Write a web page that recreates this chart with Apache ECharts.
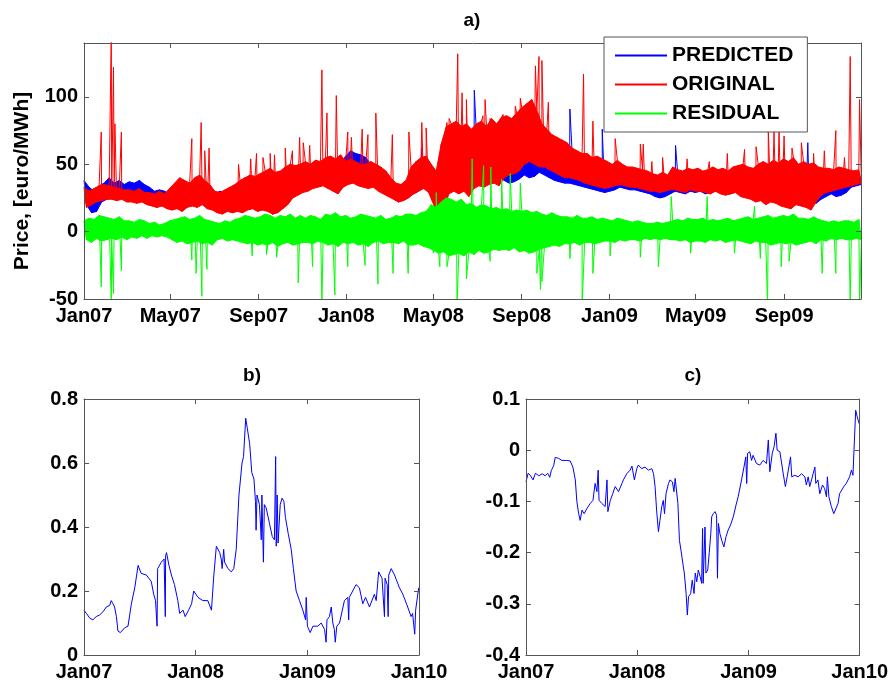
<!DOCTYPE html>
<html><head><meta charset="utf-8">
<script src="https://cdn.jsdelivr.net/npm/echarts@6/dist/echarts.min.js"></script>
<style>html,body{margin:0;padding:0;background:#fff}#c{width:891px;height:684px}</style>
</head><body><div id="c"></div>
<script>
// ---------- tick labels ----------
const topTickNames = ['Jan07','May07','Sep07','Jan08','May08','Sep08','Jan09','May09','Sep09'];
const topTickDates = ['2007-01-01','2007-05-01','2007-09-01','2008-01-01','2008-05-01','2008-09-01','2009-01-01','2009-05-01','2009-09-01'];
const bottomTickNames = ['Jan07','Jan08','Jan09','Jan10'];
const bottomTickDates = ['2007-01-01','2008-01-01','2009-01-01','2010-01-01'];
const seriesNames = ['PREDICTED','ORIGINAL','RESIDUAL'];

// ---------- panel a: weekly band upper / lower values (week i starts day 7*i from Jan 1 2007) ----------
const predHi = [38,33,30,34,36, 40,36,38,35, 37,36,38,35, 33,30,31,30, 28,30,32,34,33, 35,38,36,33, 28,30,29,31, 30,32,31,34,33, 35,37,38,36, 38,41,43,44,46, 47,46,49,48, 50,52,49,51,
  56,60,58,57,55, 50,48,46,44, 37,33,32,35, 40,44,48,50, 48,40,55,62,65, 66,68,70,66, 72,70,74,76,73, 78,80,79,82, 88,86,84,82, 78,74,70,66,64, 62,60,58,56, 55,52,53,50,
  50,48,52,49,47, 46,45,44,43, 41,40,42,40, 44,43,42,44,43, 42,43,41,42, 43,44,42,43, 44,45,43,42,44, 45,46,44,43, 46,48,47,45, 47,46,45,44,43, 42,41,42,43, 44,45,44];
const predLo = [20,14,15,22,24, 25,24,26,24, 24,22,25,21, 20,18,21,19, 17,18,19,21,20, 22,24,21,19, 16,15,17,18, 17,16,18,20,18, 20,16,13,15, 18,22,26,28,30, 32,34,35,36, 36,38,35,38,
  42,44,43,41,38, 36,34,33,31, 25,22,24,26, 28,30,33,35, 30,20,32,38,36, 38,40,36,39, 40,42,38,43,41, 38,36,37,39, 42,40,41,44, 42,40,38,37,36, 36,35,34,33, 32,31,30,29,
  30,31,33,32,31, 31,30,29,28, 26,25,26,28, 30,29,28,30,29, 30,28,29,30, 30,29,28,30, 29,27,28,27,26, 27,24,25,22, 22,19,20,22, 24,23,21,24,26, 28,26,27,29, 33,34,35];
const origHi = [33,30,32,34,35, 34,33,32,31, 31,30,32,29, 29,28,30,28, 32,36,40,38,36, 40,42,38,35, 30,29,31,33, 35,38,40,42,41, 43,45,47,44, 45,48,50,49,50, 52,50,53,52, 55,56,54,57,
  52,54,52,50,50, 52,50,48,45, 40,36,35,38, 48,52,55,56, 50,45,65,78,80, 82,78,80,76, 80,82,78,84,80, 85,86,84,88, 92,95,98,90, 80,76,72,70,68, 66,62,60,58, 58,55,56,54,
  52,50,53,50,48, 48,47,46,45, 43,42,44,42, 48,46,45,47,46, 47,45,46,48, 46,47,45,48, 49,50,48,47,50, 52,50,53,51, 54,52,55,50, 52,50,51,48,47, 47,46,48,47, 46,45,46];
const origLo = [18,20,22,23,24, 24,23,24,22, 22,21,22,20, 19,18,19,17, 16,17,15,18,19, 18,20,17,16, 14,13,15,14, 15,14,16,17,15, 16,15,13,14, 17,20,25,27,29, 30,32,33,34, 32,30,28,33,
  35,36,34,33,32, 33,30,28,26, 24,22,23,25, 28,30,32,29, 20,8,15,28,30, 28,30,26,32, 34,33,35,36,34, 40,42,43,45, 50,52,50,48, 48,46,44,42,40, 40,39,38,36, 35,34,33,32,
  33,34,35,34,33, 33,32,31,30, 30,29,30,31, 31,30,29,31,30, 30,29,28,30, 28,27,28,29, 26,25,24,22,23, 20,22,21,19, 18,17,20,19, 18,16,22,27,29, 30,31,32,33, 34,35,36];
const resHi = [8,10,9,12,11, 10,9,11,8, 8,7,9,8, 6,7,5,6, 8,9,10,11,9, 10,12,9,8, 7,6,8,7, 9,10,12,11,10, 11,13,12,10, 12,11,13,10,12, 10,12,11,9, 13,12,14,11,
  12,10,11,13,12, 11,10,12,9, 10,12,11,13, 13,12,14,15, 20,18,22,25,24, 22,24,20,21, 18,20,19,17,18, 16,17,15,16, 15,16,14,15, 13,12,14,12,11, 11,10,12,10, 10,11,9,10,
  9,8,10,9,8, 7,8,7,6, 6,7,6,7, 8,9,8,10,9, 9,10,8,9, 8,9,10,8, 9,10,11,9,10, 11,12,10,11, 12,11,13,10, 10,9,11,9,8, 7,8,7,8, 8,7,9];
const resLo = [-6,-8,-5,-7,-6, -5,-6,-4,-6, -4,-5,-3,-5, -3,-4,-3,-4, -6,-8,-7,-9,-8, -7,-9,-8,-10, -6,-5,-7,-6, -7,-8,-9,-8,-10, -9,-10,-8,-11, -9,-8,-10,-9,-8, -8,-9,-7,-8, -10,-9,-11,-8,
  -9,-8,-10,-9,-11, -8,-7,-9,-8, -8,-9,-7,-10, -10,-9,-11,-12, -14,-16,-15,-18,-17, -16,-18,-15,-17, -14,-16,-15,-13,-14, -13,-14,-12,-15, -14,-16,-15,-13, -12,-11,-10,-11,-9, -9,-8,-10,-8, -8,-9,-8,-7,
  -7,-8,-6,-7,-6, -6,-7,-5,-6, -5,-6,-5,-6, -6,-7,-6,-8,-7, -7,-8,-6,-7, -6,-8,-7,-6, -7,-8,-9,-7,-8, -8,-10,-9,-8, -9,-8,-10,-9, -8,-7,-9,-6,-7, -5,-6,-5,-6, -6,-5,-6];
// isolated spikes [day, value]
const origSpikes = [[24,74],[38,150],[41,122],[43,80],[52,74],[150,69],[163,81],[168,60],[174,62],[215,50],[232,54],[240,58],[249,55],[259,58],[265,57],[280,62],[290,60],[300,70],[305,66],[314,64],
  [331,120],[338,88],[351,101],[367,74],[372,70],[387,76],[395,72],[406,88],[429,72],[452,74],[470,81],[476,77],[505,81],[508,84],[520,132],[526,103],[532,98],[555,86],[558,98],[565,84],
  [583,87],[600,93],[607,99],[618,91],[628,123],[633,130],[637,127],[646,96],[665,69],[695,117],[708,82],[739,69],[774,65],[778,65],[790,52],[805,55],[839,54],[870,52],[895,58],[919,61],
  [935,63],[952,76],[960,74],[967,75],[974,71],[985,62],[998,66],[1015,58],[1030,60],[1046,75],[1058,55],[1066,130],[1079,98]];
const predSpikes = [[470,62],[543,105],[676,91],[721,76],[823,64],[1007,66]];
const resSpikes = [[24,-41],[38,-55],[41,-46],[52,-29],[150,-21],[156,-31],[164,-48],[171,-28],[234,-18],[254,-17],[268,-19],[298,-38],[318,-26],[331,-55],[349,-47],[367,-26],[391,-25],
  [409,-39],[430,-31],[451,-31],[486,-16],[490,29],[495,-26],[505,-26],[519,-55],[532,-35],[540,54],[556,49],[565,-22],[566,48],[581,39],[593,43],[607,36],[630,-31],[635,-43],[637,-37],
  [676,-20],[693,-55],[708,-31],[732,-18],[774,-19],[799,-26],[817,26],[844,-16],[867,26],[905,-16],[933,19],[941,-20],[951,-55],[970,-26],[981,-22],[1027,-31],[1046,-31],[1066,-55],[1079,-55]];

// ---------- panel b / c: [day since Jan 1 2007, value] ----------
const panelB = [[0,0.14],[8,0.13],[19,0.115],[29,0.11],[40,0.12],[51,0.125],[62,0.135],[73,0.15],[84,0.155],[89,0.17],[95,0.16],[100,0.15],[106,0.12],[111,0.075],[119,0.07],[133,0.085],
  [144,0.09],[155,0.16],[166,0.21],[177,0.28],[187,0.255],[204,0.25],[220,0.23],[228,0.19],[234,0.17],[239,0.09],[241,0.27],[253,0.29],[262,0.30],[266,0.12],[267,0.31],[270,0.32],
  [278,0.28],[286,0.25],[296,0.22],[307,0.17],[313,0.13],[324,0.14],[331,0.12],[342,0.14],[352,0.16],[359,0.20],[373,0.18],[389,0.17],[405,0.17],[413,0.15],[417,0.14],[424,0.24],
  [433,0.34],[444,0.32],[449,0.30],[452,0.27],[457,0.33],[460,0.29],[471,0.27],[482,0.26],[490,0.27],[498,0.33],[507,0.50],[517,0.60],[522,0.62],[529,0.74],[534,0.71],[542,0.66],
  [549,0.57],[556,0.55],[561,0.48],[563,0.39],[566,0.50],[574,0.47],[580,0.36],[582,0.50],[587,0.29],[590,0.47],[596,0.46],[607,0.41],[616,0.37],[623,0.36],[627,0.62],[629,0.34],
  [632,0.50],[635,0.35],[642,0.47],[648,0.49],[654,0.48],[659,0.43],[668,0.38],[678,0.33],[685,0.27],[694,0.20],[705,0.17],[716,0.14],[725,0.11],[727,0.18],[731,0.09],[740,0.07],
  [749,0.09],[765,0.09],[776,0.10],[787,0.08],[792,0.04],[795,0.11],[803,0.12],[809,0.15],[814,0.10],[819,0.08],[822,0.04],[827,0.09],[836,0.10],[852,0.17],[863,0.18],[866,0.11],
  [868,0.18],[879,0.20],[890,0.22],[901,0.21],[912,0.16],[921,0.18],[934,0.15],[950,0.19],[956,0.17],[964,0.26],[975,0.24],[983,0.12],[985,0.24],[992,0.22],[995,0.12],[997,0.25],
  [1005,0.27],[1016,0.25],[1032,0.21],[1043,0.19],[1059,0.15],[1070,0.12],[1075,0.13],[1082,0.065],[1085,0.14],[1095,0.21]];
const panelC = [[0,-0.062],[7,-0.045],[14,-0.049],[23,-0.058],[31,-0.045],[42,-0.05],[53,-0.046],[63,-0.05],[71,-0.045],[78,-0.053],[83,-0.04],[91,-0.03],[96,-0.014],[107,-0.016],
  [118,-0.02],[134,-0.02],[145,-0.021],[154,-0.033],[162,-0.058],[167,-0.1],[173,-0.124],[178,-0.137],[184,-0.117],[191,-0.124],[200,-0.114],[211,-0.104],[220,-0.098],[227,-0.065],
  [233,-0.081],[237,-0.039],[240,-0.098],[249,-0.104],[260,-0.11],[266,-0.058],[269,-0.12],[277,-0.098],[285,-0.085],[293,-0.071],[304,-0.081],[315,-0.065],[320,-0.058],[331,-0.046],
  [342,-0.039],[348,-0.031],[356,-0.058],[364,-0.036],[369,-0.029],[380,-0.036],[391,-0.033],[402,-0.039],[413,-0.036],[419,-0.046],[424,-0.071],[429,-0.117],[435,-0.159],[440,-0.137],
  [446,-0.11],[451,-0.098],[455,-0.124],[460,-0.085],[468,-0.065],[473,-0.058],[481,-0.062],[486,-0.081],[490,-0.055],[495,-0.058],[499,-0.104],[504,-0.176],[509,-0.195],[517,-0.228],
  [520,-0.24],[526,-0.28],[530,-0.322],[534,-0.286],[541,-0.28],[546,-0.254],[552,-0.28],[556,-0.24],[561,-0.257],[566,-0.234],[572,-0.247],[577,-0.26],[580,-0.153],[582,-0.26],
  [588,-0.15],[591,-0.24],[597,-0.234],[602,-0.2],[607,-0.163],[610,-0.13],[615,-0.124],[621,-0.12],[626,-0.127],[629,-0.25],[632,-0.143],[637,-0.163],[643,-0.176],[650,-0.189],
  [657,-0.169],[664,-0.156],[672,-0.146],[681,-0.13],[690,-0.107],[697,-0.091],[708,-0.058],[716,-0.033],[722,-0.013],[725,-0.065],[728,-0.006],[735,-0.003],[741,-0.02],[746,-0.01],
  [757,-0.026],[768,-0.029],[779,-0.02],[790,-0.026],[796,0.02],[801,-0.042],[809,-0.006],[815,0.007],[821,0.033],[825,0],[834,-0.003],[845,-0.046],[852,-0.071],[858,-0.052],
  [864,-0.049],[869,-0.013],[873,-0.052],[883,-0.049],[894,-0.052],[905,-0.046],[916,-0.052],[921,-0.068],[927,-0.052],[932,-0.071],[938,-0.058],[943,-0.046],[949,-0.033],[952,-0.065],
  [959,-0.058],[965,-0.085],[974,-0.068],[981,-0.075],[987,-0.091],[990,-0.052],[995,-0.091],[1003,-0.11],[1011,-0.124],[1017,-0.124],[1025,-0.104],[1030,-0.085],[1036,-0.088],
  [1044,-0.071],[1052,-0.065],[1063,-0.052],[1069,-0.039],[1074,-0.049],[1080,-0.046],[1083,0.078],[1088,0.065],[1096,0.049]];

// ---------- helpers ----------
const FONT = '"Liberation Sans", Arial, Helvetica, sans-serif';
const AXC = '#555';
const BLUE = '#0000ff', RED = '#ff0000', GREEN = '#00ff00';
const day0 = Date.parse('2007-01-01T00:00:00Z');
const dayOf = s => Math.round((Date.parse(s + 'T00:00:00Z') - day0) / 86400000);
const topTickDays = topTickDates.map(dayOf);
const bottomTickDays = bottomTickDates.map(dayOf);

function bandLine(hi, lo, spikes) {
  const pts = [];
  for (let i = 0; i < Math.min(hi.length, lo.length); i++) {
    pts.push([i * 7, hi[i]]);
    pts.push([i * 7 + 3.5, lo[i]]);
  }
  spikes.forEach(s => pts.push(s));
  pts.sort((a, b) => a[0] - b[0]);
  return pts;
}
// filled envelope between upper and lower weekly values, placed through the axis scales
function bandFill(hi, lo, color, z) {
  return {
    type: 'custom', xAxisIndex: 0, yAxisIndex: 0, silent: true, clip: true, animation: false, z: z,
    data: [[0, 0]], encode: { x: 0, y: 1 },
    renderItem: function (params, api) {
      const pts = [];
      for (let i = 0; i < hi.length; i++) pts.push(api.coord([i * 7, hi[i]]));
      for (let i = lo.length - 1; i >= 0; i--) pts.push(api.coord([i * 7 + 3.5, lo[i]]));
      return { type: 'polygon', shape: { points: pts }, style: { fill: color, stroke: color, lineWidth: 1 } };
    }
  };
}
const labelStyle = { color: '#000', fontWeight: 'bold', fontSize: 20, fontFamily: FONT };

function xAxes(gi, max, days, names) {
  const fmt = v => { for (let k = 0; k < days.length; k++) if (Math.abs(days[k] - v) < 0.5) return names[k]; return ''; };
  const base = { type: 'value', gridIndex: gi, min: 0, max: max, splitLine: { show: false },
    axisLine: { show: true, onZero: false, lineStyle: { color: AXC, width: 1 } } };
  return [
    Object.assign({}, base, { position: 'bottom', z: 20,
      axisTick: { show: true, inside: true, length: 5, customValues: days, lineStyle: { color: AXC } },
      axisLabel: Object.assign({ customValues: days, formatter: fmt, margin: 7 }, labelStyle) }),
    Object.assign({}, base, { position: 'top', z: 20,
      axisTick: { show: true, inside: true, length: 5, customValues: days, lineStyle: { color: AXC } },
      axisLabel: { show: false } })
  ];
}
function yAxes(gi, min, max, interval, showMax) {
  const base = { type: 'value', gridIndex: gi, min: min, max: max, interval: interval, splitLine: { show: false }, z: 20,
    axisLine: { show: true, onZero: false, lineStyle: { color: AXC, width: 1 } },
    axisTick: { show: true, inside: true, length: 5, lineStyle: { color: AXC } } };
  return [
    Object.assign({}, base, { position: 'left', axisLabel: Object.assign({ margin: 6, showMaxLabel: showMax }, labelStyle) }),
    Object.assign({}, base, { position: 'right', axisLabel: { show: false } })
  ];
}

const chart = echarts.init(document.getElementById('c'), null, { renderer: 'canvas' });
const lineBase = { type: 'line', symbol: 'none', showSymbol: false, animation: false, sampling: false };

chart.setOption({
  animation: false,
  backgroundColor: '#fff',
  grid: [
    { left: 84, top: 43, width: 777, height: 256 },
    { left: 84, top: 399, width: 335, height: 256 },
    { left: 526, top: 399, width: 335, height: 256 }
  ],
  xAxis: [].concat(xAxes(0, 1081, topTickDays, topTickNames), xAxes(1, 1096, bottomTickDays, bottomTickNames), xAxes(2, 1096, bottomTickDays, bottomTickNames)),
  yAxis: [].concat(yAxes(0, -50, 140, 50, false), yAxes(1, 0, 0.8, 0.2, true), yAxes(2, -0.4, 0.1, 0.1, true)),
  legend: {
    data: seriesNames, orient: 'vertical', left: 604, top: 37, icon: 'rect', z: 30,
    padding: [8, 14, 8, 11], itemGap: 8, itemWidth: 52, itemHeight: 2,
    backgroundColor: '#fff', borderColor: '#555', borderWidth: 1,
    textStyle: { color: '#000', fontWeight: 'bold', fontSize: 21, fontFamily: FONT, lineHeight: 21 }
  },
  graphic: [
    { type: 'text', x: 472, y: 21, style: { text: 'a)', textAlign: 'center', textVerticalAlign: 'middle', font: 'bold 19px ' + FONT, fill: '#000' } },
    { type: 'text', x: 252, y: 376, style: { text: 'b)', textAlign: 'center', textVerticalAlign: 'middle', font: 'bold 19px ' + FONT, fill: '#000' } },
    { type: 'text', x: 693, y: 376, style: { text: 'c)', textAlign: 'center', textVerticalAlign: 'middle', font: 'bold 19px ' + FONT, fill: '#000' } },
    { type: 'text', x: 22, y: 181, rotation: Math.PI / 2, style: { text: 'Price, [euro/MWh]', textAlign: 'center', textVerticalAlign: 'middle', font: 'bold 21px ' + FONT, fill: '#000' } }
  ],
  series: [
    bandFill(predHi, predLo, BLUE, 2),
    Object.assign({}, lineBase, { name: seriesNames[0], z: 3, xAxisIndex: 0, yAxisIndex: 0, data: bandLine(predHi, predLo, predSpikes), lineStyle: { color: BLUE, width: 1 }, itemStyle: { color: BLUE } }),
    bandFill(origHi, origLo, RED, 4),
    Object.assign({}, lineBase, { name: seriesNames[1], z: 5, xAxisIndex: 0, yAxisIndex: 0, data: bandLine(origHi, origLo, origSpikes), lineStyle: { color: RED, width: 1 }, itemStyle: { color: RED } }),
    bandFill(resHi, resLo, GREEN, 6),
    Object.assign({}, lineBase, { name: seriesNames[2], z: 7, xAxisIndex: 0, yAxisIndex: 0, data: bandLine(resHi, resLo, resSpikes), lineStyle: { color: GREEN, width: 1 }, itemStyle: { color: GREEN } }),
    Object.assign({}, lineBase, { name: 'b', xAxisIndex: 2, yAxisIndex: 2, data: panelB, lineStyle: { color: BLUE, width: 1 } }),
    Object.assign({}, lineBase, { name: 'c', xAxisIndex: 4, yAxisIndex: 4, data: panelC, lineStyle: { color: BLUE, width: 1 } })
  ]
});
</script></body></html>
